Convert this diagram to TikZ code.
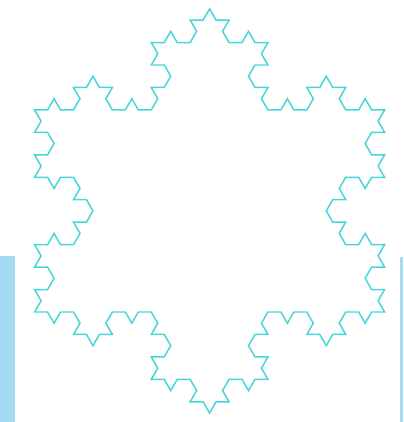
\documentclass[tikz,border=0pt]{standalone}
\usepackage{xcolor}
\usetikzlibrary{lindenmayersystems}
\definecolor{snowcyan}{RGB}{70,214,216}
\definecolor{barblue}{RGB}{166,218,240}

\pgfdeclarelindenmayersystem{Koch curve}{\rule{F -> F-F++F-F}}

\begin{document}
\begin{tikzpicture}[
    x=0.025cm, y=0.025cm,
    bar/.style={fill=barblue, draw=none},
    flake/.style={draw=snowcyan, line width=1.05pt, line join=miter}
]
    \useasboundingbox (0,0) rectangle (403,422);

    % Side bars
    \fill[bar] (0,0) rectangle (15,166);
    \fill[bar] (400,0) rectangle (403,165);

    % Snowflake
    \begin{scope}[shift={(34.6,110)}]
        \draw[flake, lindenmayer system={Koch curve, axiom=F++F++F, order=3, step=0.324cm, angle=60}]
            lindenmayer system -- cycle;
    \end{scope}
\end{tikzpicture}
\end{document}
